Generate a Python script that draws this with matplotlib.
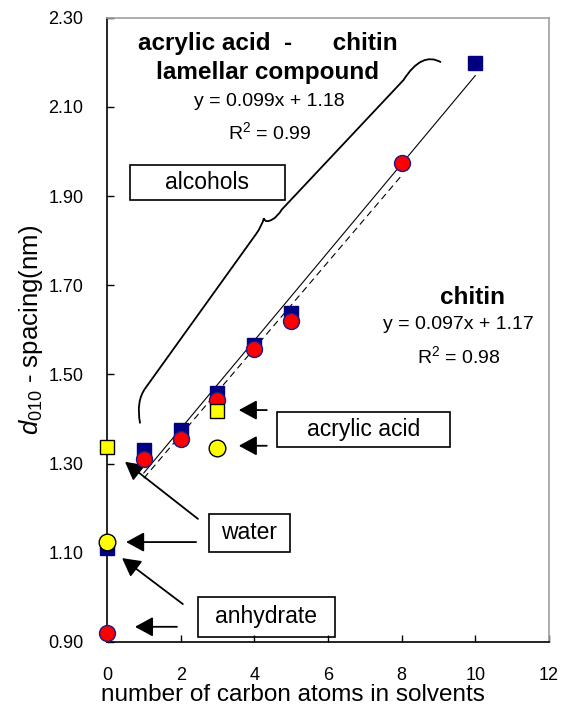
import matplotlib
matplotlib.use("Agg")
import matplotlib.pyplot as plt
from matplotlib.path import Path
from matplotlib.patches import PathPatch, Rectangle

plt.rcParams["font.family"] = ["Liberation Sans", "DejaVu Sans"]
plt.rcParams["mathtext.fontset"] = "custom"
plt.rcParams["mathtext.rm"] = "Liberation Sans"
plt.rcParams["mathtext.it"] = "Liberation Sans:italic"

# acrylic acid - chitin lamellar compound + alcohols (blue squares)
x_compound = [0, 1, 2, 3, 4, 5, 10]
y_compound = [1.11, 1.33, 1.375, 1.458, 1.565, 1.638, 2.198]
# chitin + alcohols (red circles)
x_chitin = [0, 1, 2, 3, 4, 5, 8]
y_chitin = [0.92, 1.31, 1.356, 1.442, 1.556, 1.619, 1.975]
# water / acrylic acid, compound (yellow squares) and chitin (yellow circles)
x_yel_sq = [0, 3]
y_yel_sq = [1.338, 1.419]
x_yel_ci = [0, 3]
y_yel_ci = [1.125, 1.336]

# fits: slope, intercept, x range
fit_compound = (0.099, 1.18, 1, 10)
fit_chitin = (0.097, 1.17, 1, 8)

fig = plt.figure(figsize=(5.63, 7.07), dpi=100)
ax = fig.add_axes([0.190, 0.092, 0.785, 0.883])

a, b, x0, x1 = fit_compound
ax.plot([x0, x1], [a * x0 + b, a * x1 + b], color="black", lw=0.8, zorder=2)
a, b, x0, x1 = fit_chitin
ax.plot([x0, x1], [a * x0 + b, a * x1 + b], color="black", lw=0.8,
        ls=(0, (6, 4)), zorder=2)

ax.plot(x_compound, y_compound, "s", color="#000080", ms=10, mec="#000080",
        clip_on=False, zorder=3)
ax.plot(x_chitin, y_chitin, "o", color="red", ms=11.5, mec="#1a1a8c", mew=1,
        clip_on=False, zorder=4)
ax.plot(x_yel_sq, y_yel_sq, "s", color="#ffff00", ms=10, mec="black", mew=1,
        clip_on=False, zorder=5)
ax.plot(x_yel_ci, y_yel_ci, "o", color="#ffff00", ms=12, mec="black", mew=1,
        clip_on=False, zorder=5)

# brace grouping the alcohols
verts = [(0.90, 1.39), (0.78, 1.44), (1.05, 1.47), (4.05, 1.815),
         (4.20, 1.832), (4.26, 1.850), (4.30, 1.838), (4.50, 1.848),
         (4.62, 1.853), (4.75, 1.870), (8.05, 2.16), (8.55, 2.225),
         (9.07, 2.20)]
codes = [Path.MOVETO, Path.CURVE3, Path.CURVE3, Path.LINETO,
         Path.CURVE3, Path.CURVE3, Path.CURVE3, Path.CURVE3,
         Path.CURVE3, Path.CURVE3, Path.LINETO, Path.CURVE3, Path.CURVE3]
ax.add_patch(PathPatch(Path(verts, codes), fill=False, lw=1.3, color="black"))

# boxed labels
boxes = [("alcohols", 0.62, 1.892, 4.21, 0.078),
         ("acrylic acid", 4.62, 1.337, 4.69, 0.079),
         ("water", 2.77, 1.102, 2.20, 0.085),
         ("anhydrate", 2.47, 0.911, 3.72, 0.090)]
for label, bx, by, bw, bh in boxes:
    ax.add_patch(Rectangle((bx, by), bw, bh, fill=False, lw=1.2,
                           edgecolor="black", zorder=6))
    ax.text(bx + bw / 2, by + bh / 2, label, ha="center", va="center",
            fontsize=16.5, zorder=6)

arrows = [((3.58, 1.420), (4.34, 1.420)),
          ((3.58, 1.340), (4.34, 1.340)),
          ((0.52, 1.124), (2.42, 1.124)),
          ((0.49, 1.304), (2.47, 1.176)),
          ((0.41, 1.088), (2.06, 0.985)),
          ((0.76, 0.934), (1.90, 0.934))]
for tip, tail in arrows:
    ax.annotate("", xy=tip, xytext=tail,
                arrowprops=dict(arrowstyle="-|>,head_length=1.1,head_width=0.6",
                                color="black", lw=1.3, shrinkA=0, shrinkB=0))

ax.text(4.38, 2.243, "acrylic acid  -      chitin", ha="center", va="center",
        fontsize=17.5, fontweight="bold")
ax.text(4.35, 2.176, "lamellar compound", ha="center", va="center",
        fontsize=17.5, fontweight="bold")
ax.text(4.40, 2.113, "y = 0.099x + 1.18", ha="center", va="center", fontsize=14)
ax.text(4.42, 2.043, "R$^2$ = 0.99", ha="center", va="center", fontsize=14)

ax.text(9.93, 1.672, "chitin", ha="center", va="center",
        fontsize=17.5, fontweight="bold")
ax.text(9.55, 1.612, "y = 0.097x + 1.17", ha="center", va="center", fontsize=14)
ax.text(9.56, 1.541, "R$^2$ = 0.98", ha="center", va="center", fontsize=14)

ax.set_xlim(0, 12)
ax.set_ylim(0.90, 2.30)
ax.set_xticks(range(0, 13, 2))
yt = [0.90, 1.10, 1.30, 1.50, 1.70, 1.90, 2.10, 2.30]
ax.set_yticks(yt)
ax.set_yticklabels([f"{v:.2f}" for v in yt])
ax.tick_params(direction="in", length=5, width=1, labelsize=13)
ax.tick_params(axis="y", pad=17)
ax.tick_params(axis="x", pad=18)
for s in ("left", "bottom"):
    ax.spines[s].set_color("black")
    ax.spines[s].set_linewidth(1.2)
for s in ("top", "right"):
    ax.spines[s].set_color("#a0a0a0")
    ax.spines[s].set_linewidth(1.2)

ax.set_xlabel("number of carbon atoms in solvents", fontsize=17.5, labelpad=0,
              x=0.42)
ax.set_ylabel(r"$\mathit{d}_{\mathrm{010}}$ - spacing(nm)", fontsize=18.5,
              labelpad=2)

fig.savefig("out.png", dpi=100)
